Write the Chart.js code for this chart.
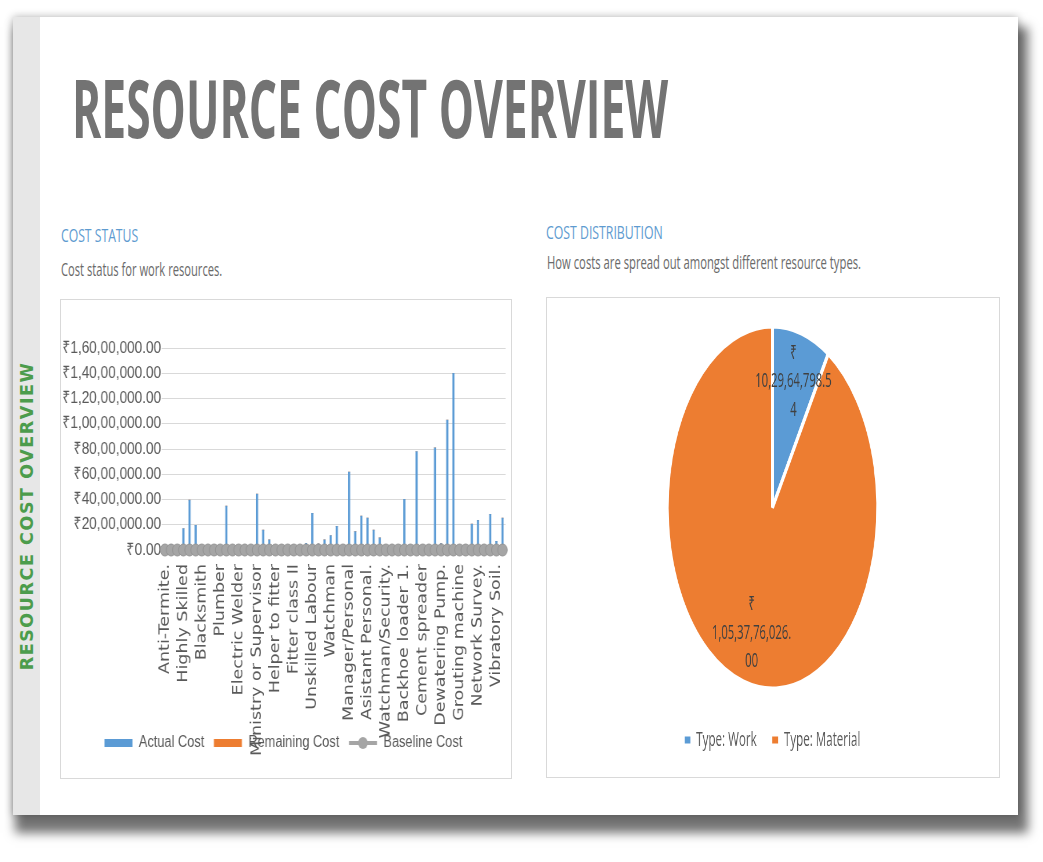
<!DOCTYPE html>
<html>
<head>
<meta charset="utf-8">
<title>Resource Cost Overview</title>
<script src="https://cdn.jsdelivr.net/npm/chart.js@4.4.1/dist/chart.umd.min.js"></script>
<style>
html, body { margin: 0; padding: 0; background: #fff; }
body { width: 1043px; height: 862px; position: relative; overflow: hidden; font-family: "Open Sans", sans-serif; }
.card { position: absolute; left: 13px; top: 17px; width: 1005px; height: 798px; background: #fff;
	box-shadow: 6px 14px 10px 4px rgba(0,0,0,0.55), 0 0 8px rgba(0,0,0,0.3); }
.strip { position: absolute; left: 13px; top: 17px; width: 27px; height: 798px; background: #e7e7e7; }
.fit { position: absolute; white-space: nowrap; transform-origin: 0 0; }
.title { left: 72px; top: 66px; font-size: 81px; line-height: 81px; font-weight: 700; color: #737373; }
.head { font-size: 19px; line-height: 19px; color: #5e9bd0; }
.sub { font-size: 19px; line-height: 19px; color: #6a6a6a; }
.side { position: absolute; left: 27px; top: 516px; white-space: nowrap; transform-origin: 50% 50%;
	font-family: "DejaVu Sans", sans-serif; font-weight: bold; font-size: 17px; line-height: 17px;
	letter-spacing: 1.5px; color: #4c9c4c; }
.box { position: absolute; border: 1px solid #d9d9d9; box-sizing: border-box; background: #fff; }
.holder { position: absolute; transform-origin: 0 0; }
</style>
</head>
<body>
<div class="card"></div>
<div class="strip"></div>
<div class="side" data-w="309" data-pre="translate(-50%,-50%) rotate(-90deg)">RESOURCE COST OVERVIEW</div>

<div class="fit title" data-w="596">RESOURCE COST OVERVIEW</div>

<div class="fit head" style="left:61px; top:226px;" data-w="77">COST STATUS</div>
<div class="fit sub" style="left:61px; top:260px;" data-w="161">Cost status for work resources.</div>
<div class="fit head" style="left:546px; top:223px;" data-w="117">COST DISTRIBUTION</div>
<div class="fit sub" style="left:547px; top:253px;" data-w="314">How costs are spread out amongst different resource types.</div>

<div class="box" style="left:60px; top:299px; width:452px; height:480px;"></div>
<div class="holder" style="left:60px; top:299px; width:564px; height:479px; transform:scaleX(0.8);">
	<canvas id="costStatus"></canvas>
</div>

<div class="box" style="left:546px; top:297px; width:454px; height:481px;"></div>
<div class="holder" style="left:546px; top:297px; width:781px; height:480px; transform:scaleX(0.58);">
	<canvas id="costDistribution"></canvas>
</div>

<script>
(function () {

// work resources, one column each; only every third name is printed on the axis
var resourceNames = [
	'Anti-Termite.', 'Carpenter', 'Mason', 'Highly Skilled', 'Skilled', 'Semi Skilled',
	'Blacksmith', 'Painter', 'Bar Bender', 'Plumber', 'Electrician', 'Fitter class I',
	'Electric Welder', 'Gas Welder', 'Foreman', 'Ministry or Supervisor', 'Helper to mason', 'Helper to carpenter',
	'Helper to fitter', 'Helper to welder', 'Helper to electrician', 'Fitter class II', 'Mate', 'Beldar',
	'Unskilled Labour', 'Chowkidar', 'Store Keeper', 'Watchman', 'Site Engineer', 'Project Manager',
	'Manager/Personal', 'Accountant', 'Clerk', 'Asistant Personal.', 'Driver', 'Cleaner',
	'Watchman/Security.', 'Operator', 'JCB Operator', 'Backhoe loader 1.', 'Concrete mixer', 'Vibrator needle',
	'Cement spreader', 'Road roller', 'Excavator', 'Dewatering Pump.', 'Crane', 'Tipper truck',
	'Grouting machine', 'Compressor', 'Generator', 'Network Survey.', 'Total station', 'Water tanker',
	'Vibratory Soil.', 'Plate compactor'
];

var actualCost = [
	0, 450000, 0, 1700000, 3950000, 1950000,
	0, 0, 0, 0, 3480000, 0,
	0, 0, 0, 4420000, 1570000, 800000,
	0, 0, 0, 0, 0, 520000,
	2900000, 480000, 800000, 1150000, 1870000, 0,
	6170000, 1460000, 2680000, 2530000, 1580000, 960000,
	0, 0, 0, 4020000, 0, 7800000,
	0, 0, 8100000, 500000, 10300000, 14000000,
	0, 0, 2060000, 2350000, 0, 2830000,
	680000, 2530000
];

var remainingCost = [
	0, 0, 0, 0, 0, 0, 0, 0, 0, 0, 0, 0, 0, 0,
	0, 0, 0, 0, 0, 0, 0, 0, 0, 0, 0, 0, 0, 0,
	0, 0, 0, 0, 0, 0, 0, 0, 0, 0, 0, 0, 0, 0,
	0, 0, 0, 0, 0, 0, 0, 0, 0, 0, 0, 0, 0, 0
];

var baselineCost = [
	0, 0, 0, 0, 0, 0, 0, 0, 0, 0, 0, 0, 0, 0,
	0, 0, 0, 0, 0, 0, 0, 0, 0, 0, 0, 0, 0, 0,
	0, 0, 0, 0, 0, 0, 0, 0, 0, 0, 0, 0, 0, 0,
	0, 0, 0, 0, 0, 0, 0, 0, 0, 0, 0, 0, 0, 0
];

var costMax = 16000000;
var costStep = 2000000;
var labelStep = 3;

var resourceTypes = ['Type: Work', 'Type: Material'];
var typeCost = [102964798.54, 1053776026.00];

var BLUE = '#5b9bd5';
var ORANGE = '#ed7d31';
var GREY = '#a5a5a5';
var TEXT = '#595959';
var SANS = '"Liberation Sans", Arial, sans-serif';

// squeeze the page texts to the widths of the report
function fitAll() {
	var list = document.querySelectorAll('[data-w]');
	for (var i = 0, len = list.length; i < len; i++) {
		var el = list[i];
		var k = parseFloat(el.getAttribute('data-w')) / el.offsetWidth;
		el.style.transform = (el.getAttribute('data-pre') || '') + ' scaleX(' + k + ')';
	}
}

// 1,05,37,76,026.00 style grouping
function inr(value) {
	var parts = Number(value).toFixed(2).split('.');
	var s = parts[0];
	var last3 = s.slice(-3);
	var rest = s.slice(0, -3);
	if (rest) {
		last3 = ',' + last3;
	}
	rest = rest.replace(/\B(?=(\d{2})+(?!\d))/g, ',');
	return rest + last3 + '.' + parts[1];
}

function wrapLabel(ctx, text, maxWidth) {
	var words = text.split(' ');
	var lines = [];
	var line = '';
	words.forEach(function (word) {
		var test = line ? line + ' ' + word : word;
		if (ctx.measureText(test).width <= maxWidth) {
			line = test;
			return;
		}
		if (line) {
			lines.push(line);
		}
		line = '';
		for (var k = 0; k < word.length; k++) {
			var t = line + word[k];
			if (line && ctx.measureText(t).width > maxWidth) {
				lines.push(line);
				line = word[k];
			} else {
				line = t;
			}
		}
	});
	if (line) {
		lines.push(line);
	}
	return lines;
}

// legend key for the baseline: a grey line with a marker
var baselineKey = {
	id: 'baselineKey',
	afterDraw: function (chart) {
		var legend = chart.legend;
		if (!legend || !legend.legendHitBoxes) {
			return;
		}
		var ctx = chart.ctx;
		var boxWidth = legend.options.labels.boxWidth;
		for (var i = 0; i < legend.legendItems.length; i++) {
			if (legend.legendItems[i].datasetIndex !== 2) {
				continue;
			}
			var hb = legend.legendHitBoxes[i];
			var cy = hb.top + hb.height / 2;
			ctx.save();
			ctx.strokeStyle = GREY;
			ctx.lineWidth = 4;
			ctx.beginPath();
			ctx.moveTo(hb.left, cy);
			ctx.lineTo(hb.left + boxWidth, cy);
			ctx.stroke();
			ctx.fillStyle = GREY;
			ctx.beginPath();
			ctx.arc(hb.left + boxWidth / 2, cy, 6, 0, Math.PI * 2);
			ctx.fill();
			ctx.restore();
		}
	}
};

// values written inside the slices, wrapped like the report does
var sliceLabels = {
	id: 'sliceLabels',
	afterDatasetsDraw: function (chart) {
		var ctx = chart.ctx;
		var meta = chart.getDatasetMeta(0);
		var values = chart.data.datasets[0].data;
		var size = 19.5;
		ctx.save();
		ctx.fillStyle = '#404040';
		ctx.font = size + 'px "Open Sans", sans-serif';
		ctx.textAlign = 'center';
		ctx.textBaseline = 'middle';
		meta.data.forEach(function (arc, i) {
			var p = arc.getProps(['x', 'y', 'startAngle', 'endAngle', 'outerRadius'], true);
			var mid = (p.startAngle + p.endAngle) / 2;
			var r = p.outerRadius * 0.72;
			var cx = p.x + Math.cos(mid) * r;
			var cy = p.y + Math.sin(mid) * r;
			var lines = wrapLabel(ctx, '\u20b9 ' + inr(values[i]), size * 7.15);
			for (var j = 0; j < lines.length; j++) {
				ctx.fillText(lines[j], cx, cy + (j - (lines.length - 1) / 2) * 28.5);
			}
		});
		ctx.restore();
	}
};

function drawCostStatus() {
	new Chart(document.getElementById('costStatus'), {
		type: 'bar',
		data: {
			labels: resourceNames,
			datasets: [{
				label: 'Actual Cost',
				data: actualCost,
				backgroundColor: BLUE,
				stack: 'cost',
				barThickness: 2,
				order: 1
			}, {
				label: 'Remaining Cost',
				data: remainingCost,
				backgroundColor: ORANGE,
				stack: 'cost',
				barThickness: 2,
				order: 2
			}, {
				type: 'line',
				label: 'Baseline Cost',
				data: baselineCost,
				stack: 'base',
				borderColor: GREY,
				backgroundColor: GREY,
				borderWidth: 3,
				pointRadius: 6,
				pointBackgroundColor: GREY,
				pointBorderColor: '#939393',
				pointBorderWidth: 1,
				clip: false,
				order: 0
			}]
		},
		options: {
			responsive: true,
			maintainAspectRatio: false,
			animation: false,
			layout: { padding: { top: 49, right: 5.5, bottom: 17, left: 0 } },
			plugins: {
				tooltip: { enabled: false },
				legend: {
					position: 'bottom',
					labels: {
						boxWidth: 35,
						boxHeight: 8,
						padding: 12,
						color: TEXT,
						font: { family: SANS, size: 16 },
						sort: function (a, b) { return a.datasetIndex - b.datasetIndex; },
						generateLabels: function (chart) {
							var items = Chart.defaults.plugins.legend.labels.generateLabels(chart);
							items.forEach(function (it) {
								it.lineWidth = 0;
								if (it.datasetIndex === 2) {
									it.fillStyle = 'rgba(0,0,0,0)';
									it.strokeStyle = 'rgba(0,0,0,0)';
								}
							});
							return items;
						}
					}
				}
			},
			scales: {
				x: {
					stacked: true,
					grid: { display: false, drawTicks: false },
					border: { display: false },
					ticks: {
						autoSkip: false,
						minRotation: 90,
						maxRotation: 90,
						padding: 14,
						color: TEXT,
						font: { family: '"DejaVu Sans", Verdana, sans-serif', size: 17.5 },
						callback: function (value, index) {
							return index % labelStep === 0 ? this.getLabelForValue(value) : '';
						}
					},
					afterFit: function (scale) {
						scale.height = 173;
						scale.paddingLeft = 0;
						scale.paddingRight = 0;
						// long names run on into the legend, as in the report
						scale._computeLabelArea = function () { return null; };
					}
				},
				y: {
					stacked: true,
					min: 0,
					max: costMax,
					grid: { color: '#d9d9d9', drawTicks: false },
					border: { display: false },
					ticks: {
						stepSize: costStep,
						padding: 1,
						color: TEXT,
						font: { family: SANS, size: 17 },
						callback: function (value) { return '\u20b9' + inr(value); }
					},
					afterFit: function (scale) {
						scale.width = 127.4;
					}
				}
			}
		},
		plugins: [baselineKey]
	});
}

function drawCostDistribution() {
	new Chart(document.getElementById('costDistribution'), {
		type: 'pie',
		data: {
			labels: resourceTypes,
			datasets: [{
				data: typeCost,
				backgroundColor: [BLUE, ORANGE],
				borderColor: '#ffffff',
				borderWidth: 5
			}]
		},
		options: {
			responsive: true,
			maintainAspectRatio: false,
			animation: false,
			radius: 181.5,
			layout: { padding: { top: 15, bottom: 17 } },
			plugins: {
				tooltip: { enabled: false },
				legend: {
					position: 'bottom',
					labels: {
						boxWidth: 10,
						boxHeight: 7,
						padding: 27,
						color: TEXT,
						font: { family: '"Open Sans", sans-serif', size: 20 },
						generateLabels: function (chart) {
							var items = Chart.overrides.pie.plugins.legend.labels.generateLabels(chart);
							items.forEach(function (it) {
								it.lineWidth = 0;
								it.strokeStyle = it.fillStyle;
							});
							return items;
						}
					}
				}
			}
		},
		plugins: [sliceLabels]
	});
}

fitAll();
drawCostStatus();
drawCostDistribution();

}());
</script>
</body>
</html>
